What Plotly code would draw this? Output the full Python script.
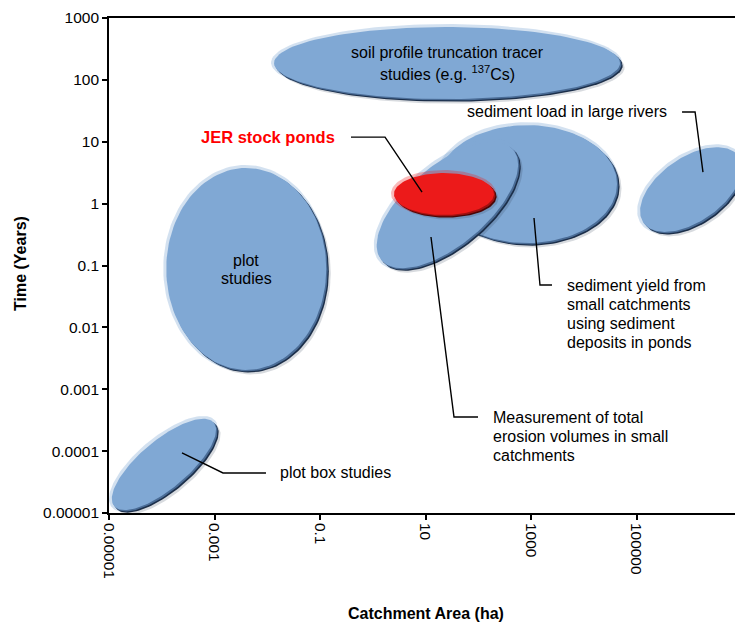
import numpy as np
import plotly.graph_objects as go

# ---------------- data ----------------
methods = [
    "plot box studies",
    "plot studies",
    "soil profile truncation tracer studies",
    "sediment yield from small catchments",
    "measurement of total erosion volumes",
    "JER stock ponds",
    "sediment load in large rivers",
]
area_center_ha = [1.1e-4, 4.0e-3, 25.6, 840.0, 26.0, 22.4, 1.08e6]
time_center_yr = [6.1e-5, 0.088, 187.0, 2.07, 0.95, 1.43, 1.69]

x_tickvals = [1e-5, 1e-3, 0.1, 10, 1000, 1e5, 1e7]
x_ticktext = ["0.00001", "0.001", "0.1", "10", "1000", "100000", "10000000"]
y_tickvals = [1e-5, 1e-4, 1e-3, 1e-2, 0.1, 1, 10, 100, 1000]
y_ticktext = ["0.00001", "0.0001", "0.001", "0.01", "0.1", "1", "10", "100", "1000"]

# leader lines (area ha, time years)
lead_jer_area = [0.387, 1.71, 8.6]
lead_jer_time = [11.9, 11.9, 1.54]
lead_riv_area = [7.3e5, 1.29e6, 1.82e6]
lead_riv_time = [30.3, 30.3, 3.24]
lead_sy_area = [1140, 1480, 2500]
lead_sy_time = [0.586, 0.0484, 0.0484]
lead_me_area = [12.7, 34.7, 98.9]
lead_me_time = [0.289, 3.56e-4, 3.56e-4]
lead_pb_area = [2.42e-4, 1.45e-3, 9.46e-3]
lead_pb_time = [9.33e-5, 4.43e-5, 4.43e-5]

# ---------------- layout geometry / styles ----------------
# the page body adds an 8px offset, so the figure is 8px smaller
W, H = 735, 616
ML, MR, MT, MB = 101, 1, 10, 111
XR = (-5, 7)
YR = (-5, 3)
sx = (W - ML - MR) / (XR[1] - XR[0])   # px per decade
sy = (H - MT - MB) / (YR[1] - YR[0])

# semi-axis a, semi-axis b (px), rotation (deg), fill, glow, mid edge, dark edge
BLUE = ("#80a8d4", "rgba(128,168,212,0.35)", "#4a6c96", "#1c2f4a")
RED = ("#ec1a1a", "rgba(236,26,26,0.3)", "#a01010", "#4a0606")
ell_style = [
    (65, 24, 40) + BLUE,
    (80, 101, 0) + BLUE,
    (173, 36, 0) + BLUE,
    (90, 59, 0) + BLUE,
    (86, 40, 40) + BLUE,
    (50, 21, 0) + RED,
    (58, 32, 35) + BLUE,
]


def ellipse(cx, cy, a, b, ang, dxp=0.0, dyp=0.0, n=140):
    t = np.linspace(0, 2 * np.pi, n)
    th = np.radians(ang)
    dx = a * np.cos(t) * np.cos(th) - b * np.sin(t) * np.sin(th) + dxp
    dy = a * np.cos(t) * np.sin(th) + b * np.sin(t) * np.cos(th) + dyp
    lx = np.log10(cx) + dx / sx
    ly = np.log10(cy) + dy / sy
    return 10 ** lx, 10 ** ly


fig = go.Figure()


def add_poly(xs, ys, color):
    fig.add_trace(go.Scatter(x=xs, y=ys, fill="toself", fillcolor=color,
                             mode="lines", line=dict(width=0, color=color),
                             hoverinfo="skip", showlegend=False))


for name, cx, cy, st in zip(methods, area_center_ha, time_center_yr, ell_style):
    a, b, ang, fill, glow, mid, edge = st
    # soft outer shadow (lower right)
    add_poly(*ellipse(cx, cy, a, b, ang, 4.5, -4.5), "rgba(40,55,80,0.18)")
    # soft glow (blurred edge, upper left)
    add_poly(*ellipse(cx, cy, a + 2.5, b + 2.5, ang, -0.5, 0.5), glow)
    # dark edge (lower right)
    add_poly(*ellipse(cx, cy, a, b, ang, 2.6, -2.6), edge)
    add_poly(*ellipse(cx, cy, a, b, ang, 1.4, -1.4), mid)
    # main body
    add_poly(*ellipse(cx, cy, a, b, ang, 0, 0), fill)

# leader lines
for xs, ys in [(lead_jer_area, lead_jer_time), (lead_riv_area, lead_riv_time),
               (lead_sy_area, lead_sy_time), (lead_me_area, lead_me_time),
               (lead_pb_area, lead_pb_time)]:
    fig.add_trace(go.Scatter(x=xs, y=ys, mode="lines",
                             line=dict(color="black", width=1.4),
                             hoverinfo="skip", showlegend=False))

FONT = "Liberation Sans, Arial, sans-serif"
ann = []


def text(x, y, s, xanchor="center", xshift=0, yshift=0, size=16, color="black", bold=False):
    if bold:
        s = "<b>" + s + "</b>"
    ann.append(dict(x=np.log10(x), y=np.log10(y), xref="x", yref="y", text=s,
                    showarrow=False, xanchor=xanchor, yanchor="middle",
                    xshift=xshift, yshift=yshift,
                    font=dict(family=FONT, size=size, color=color)))


# ellipse labels
text(area_center_ha[2], time_center_yr[2], "soil profile truncation tracer", yshift=11)
text(area_center_ha[2], time_center_yr[2], "studies (e.g. <sup>137</sup>Cs)", yshift=-10)
text(area_center_ha[1], time_center_yr[1], "plot", yshift=8)
text(area_center_ha[1], time_center_yr[1], "studies", yshift=-10)

# callout labels
text(lead_jer_area[0], lead_jer_time[0], "JER stock ponds", xanchor="right", xshift=-14,
     color="#ff0000", bold=True, size=16.5)
text(lead_riv_area[0], lead_riv_time[0], "sediment load in large rivers", xanchor="right", xshift=-13)
for i, s in enumerate(["sediment yield from", "small catchments", "using sediment", "deposits in ponds"]):
    text(lead_sy_area[2], lead_sy_time[2], s, xanchor="left", xshift=13, yshift=-19 * i)
for i, s in enumerate(["Measurement of total", "erosion volumes in small", "catchments"]):
    text(lead_me_area[2], lead_me_time[2], s, xanchor="left", xshift=13, yshift=-19 * i)
text(lead_pb_area[2], lead_pb_time[2], "plot box studies", xanchor="left", xshift=12, yshift=1)

# axis titles
ann.append(dict(x=0.5, y=0, xref="paper", yref="paper", yshift=-100, showarrow=False,
                text="<b>Catchment Area (ha)</b>", xanchor="center", yanchor="middle",
                font=dict(family=FONT, size=16, color="black")))
ann.append(dict(x=0, y=0.503, xref="paper", yref="paper", xshift=-89, showarrow=False,
                text="<b>Time (Years)</b>", textangle=-90, xanchor="center", yanchor="middle",
                font=dict(family=FONT, size=16, color="black")))

fig.update_layout(
    width=W, height=H,
    margin=dict(l=ML, r=MR, t=MT, b=MB, autoexpand=False),
    paper_bgcolor="white", plot_bgcolor="white",
    template="none",
    showlegend=False,
    annotations=ann,
    font=dict(family=FONT, size=15.5, color="black"),
)
fig.update_xaxes(type="log", range=list(XR), tickvals=x_tickvals, ticktext=x_ticktext,
                 tickangle=90, ticks="outside", ticklen=5, tickwidth=1.5, tickcolor="black",
                 showline=True, linecolor="black", linewidth=1.6, mirror=True,
                 showgrid=False, zeroline=False, automargin=False,
                 tickfont=dict(family=FONT, size=15.5, color="black"))
fig.update_yaxes(type="log", range=list(YR), tickvals=y_tickvals, ticktext=y_ticktext,
                 ticks="outside", ticklen=5, tickwidth=1.5, tickcolor="black",
                 showline=True, linecolor="black", linewidth=1.6,
                 showgrid=False, zeroline=False, automargin=False,
                 tickfont=dict(family=FONT, size=15.5, color="black"))

fig.write_html("out.html")
